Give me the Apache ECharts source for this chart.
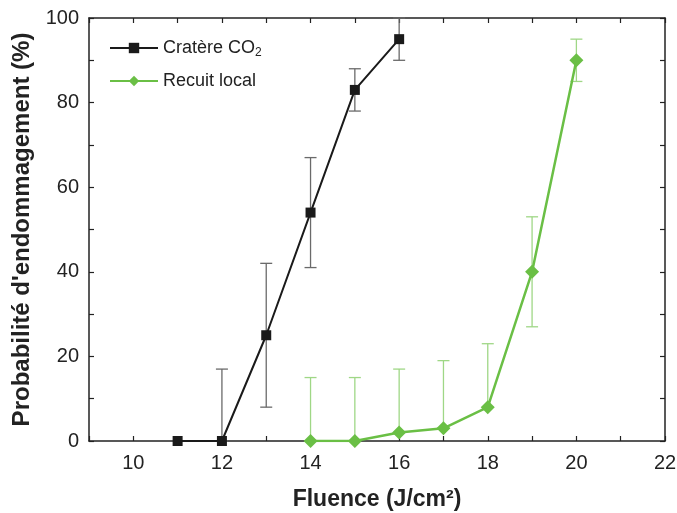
<!DOCTYPE html>
<html>
<head>
<meta charset="utf-8">
<script src="https://cdn.jsdelivr.net/npm/echarts@6/dist/echarts.min.js"></script>
<style>
  html, body { margin: 0; padding: 0; background: #fff; }
  #chart { width: 677px; height: 513px; }
</style>
</head>
<body>
<div id="chart"></div>
<script>
// Cratère CO2
const craterX = [11, 12, 13, 14, 15, 16];
const craterY = [0, 0, 25, 54, 83, 95];
const craterLow = [null, 0, 8, 41, 78, 90];
const craterHigh = [null, 17, 42, 67, 88, 100];

// Recuit local
const recuitX = [14, 15, 16, 17, 18, 19, 20];
const recuitY = [0, 0, 2, 3, 8, 40, 90];
const recuitLow = [0, 0, 2, 3, 8, 27, 85];
const recuitHigh = [15, 15, 17, 19, 23, 53, 95];

const BLACK = "#1a1a1a";
const GREEN = "#6abf45";

const pairs = (xs, ys) => xs.map((x, i) => [x, ys[i]]);
const bars = (xs, lo, hi) =>
  xs.map((x, i) => [x, lo[i], hi[i]]).filter((d) => d[1] !== null);

const errorBar = (color) => (params, api) => {
  const x = api.value(0);
  const top = api.coord([x, api.value(2)]);
  const bottom = api.coord([x, api.value(1)]);
  const w = 6;
  const style = { stroke: color, lineWidth: 1.3 };
  return {
    type: "group",
    children: [
      { type: "line", shape: { x1: top[0], y1: top[1], x2: bottom[0], y2: bottom[1] }, style },
      { type: "line", shape: { x1: top[0] - w, y1: top[1], x2: top[0] + w, y2: top[1] }, style },
      { type: "line", shape: { x1: bottom[0] - w, y1: bottom[1], x2: bottom[0] + w, y2: bottom[1] }, style },
    ],
  };
};

const axisCommon = {
  axisLine: { show: true, onZero: false, lineStyle: { color: "#222", width: 1.5 } },
  axisTick: { show: true, inside: true, length: 5, lineStyle: { color: "#222", width: 1.2 } },
  splitLine: { show: false },
};

const labelFont = { fontFamily: "Liberation Sans", fontSize: 20, color: "#222" };
const nameFont = { fontFamily: "Liberation Sans", fontWeight: "bold", fontSize: 23, color: "#222" };

const option = {
  animation: false,
  grid: { left: 89, right: 12, top: 18, bottom: 72, outerBoundsMode: "none" },
  legend: {
    left: 104,
    top: 34,
    orient: "vertical",
    itemWidth: 48,
    itemHeight: 13,
    itemGap: 13,
    data: ["crater", "recuit"],
    formatter: (name) =>
      name === "crater" ? "{a|Cratère CO}{s|2}" : "{a|Recuit local}",
    textStyle: {
      rich: {
        a: { fontFamily: "Liberation Sans", fontSize: 18, color: "#222" },
        s: { fontFamily: "Liberation Sans", fontSize: 12, color: "#222", padding: [10, 0, 0, 0] },
      },
    },
  },
  xAxis: [
    {
      ...axisCommon,
      type: "value",
      min: 9,
      max: 22,
      interval: 1,
      name: "Fluence (J/cm²)",
      nameLocation: "middle",
      nameGap: 47,
      nameTextStyle: nameFont,
      axisLabel: {
        ...labelFont,
        margin: 12,
        formatter: (v) => (v % 2 === 0 ? v : ""),
      },
    },
    {
      ...axisCommon,
      type: "value",
      position: "top",
      min: 9,
      max: 22,
      interval: 1,
      axisLabel: { show: false },
    },
  ],
  yAxis: [
    {
      ...axisCommon,
      type: "value",
      min: 0,
      max: 100,
      interval: 20,
      minorTick: { show: true, splitNumber: 2, length: 5, lineStyle: { color: "#222", width: 1.2 } },
      name: "Probabilité d'endommagement (%)",
      nameLocation: "middle",
      nameGap: 52,
      nameTextStyle: { ...nameFont, fontSize: 24 },
      axisLabel: { ...labelFont, margin: 10 },
    },
    {
      ...axisCommon,
      type: "value",
      position: "right",
      min: 0,
      max: 100,
      interval: 20,
      minorTick: { show: true, splitNumber: 2, length: 5, lineStyle: { color: "#222", width: 1.2 } },
      axisLabel: { show: false },
    },
  ],
  series: [
    {
      type: "custom",
      renderItem: errorBar("#6a6a6a"),
      data: bars(craterX, craterLow, craterHigh),
      encode: { x: 0, y: [1, 2] },
      z: 1,
    },
    {
      type: "custom",
      renderItem: errorBar("#9fd786"),
      data: bars(recuitX, recuitLow, recuitHigh),
      encode: { x: 0, y: [1, 2] },
      z: 1,
    },
    {
      name: "crater",
      type: "line",
      data: pairs(craterX, craterY),
      symbol: "rect",
      symbolSize: 10,
      color: BLACK,
      lineStyle: { color: BLACK, width: 2 },
      itemStyle: { color: BLACK },
      z: 3,
    },
    {
      name: "recuit",
      type: "line",
      data: pairs(recuitX, recuitY),
      symbol: "diamond",
      symbolSize: 14,
      color: GREEN,
      lineStyle: { color: GREEN, width: 2.5 },
      itemStyle: { color: GREEN },
      z: 3,
    },
  ],
};

const myChart = echarts.init(document.getElementById("chart"));
myChart.setOption(option);
</script>
</body>
</html>
